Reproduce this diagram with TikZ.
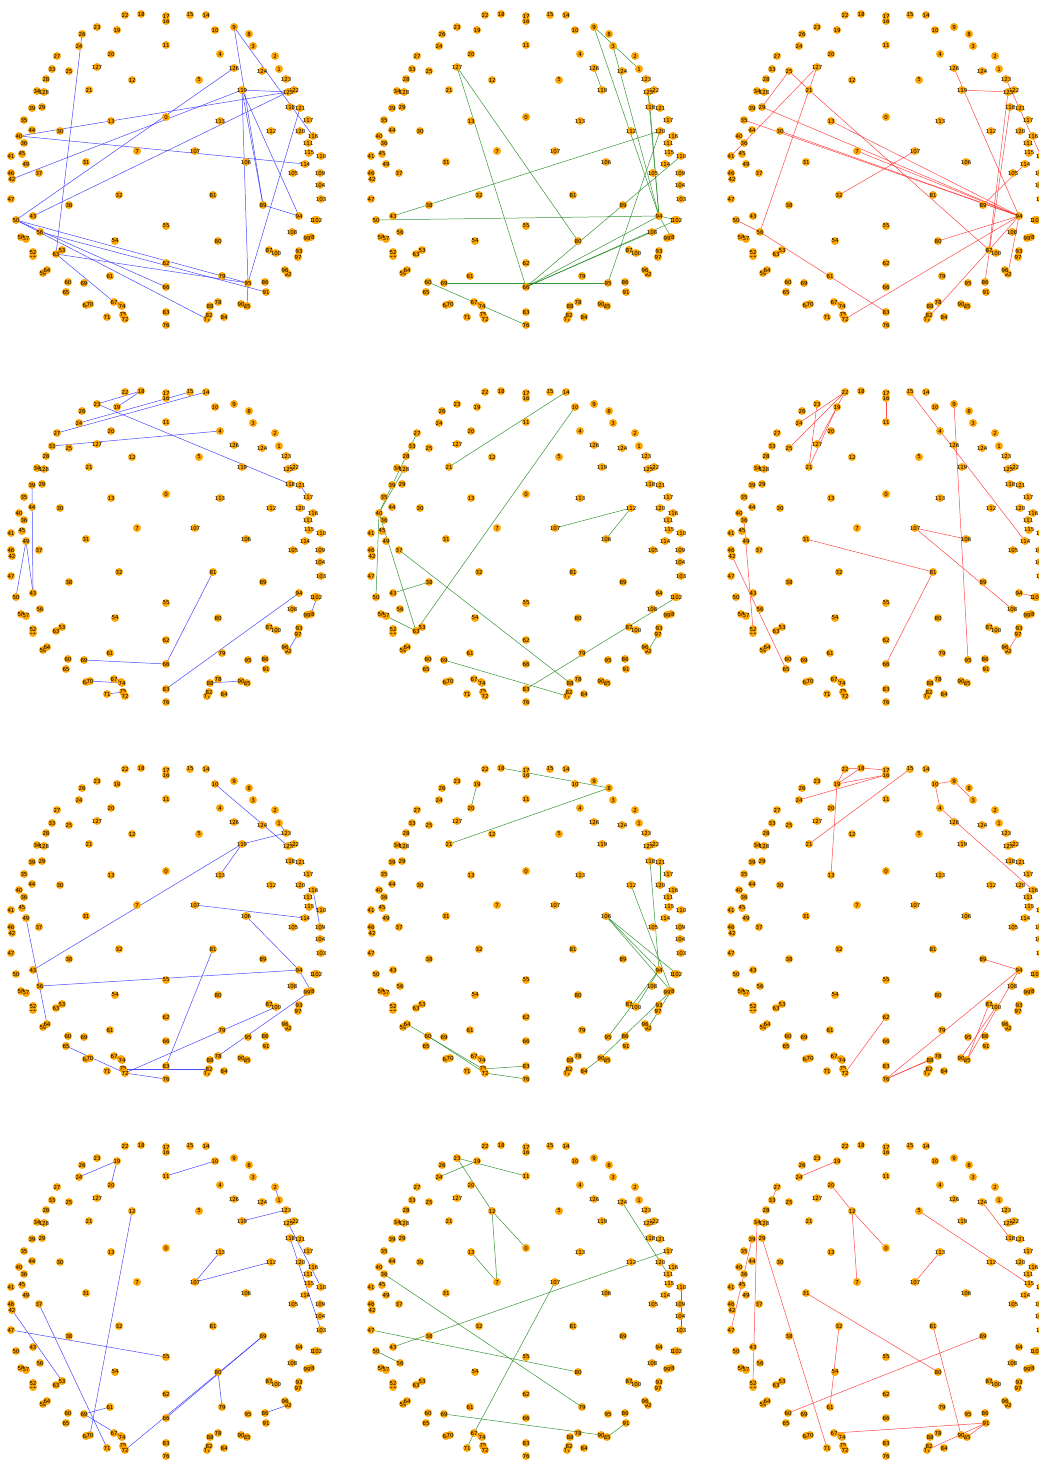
\documentclass[tikz,border=0pt]{standalone}
\usepackage{fontspec}
\setmainfont{DejaVu Sans}
\usetikzlibrary{backgrounds}
\definecolor{nodeorange}{RGB}{255,165,0}
\definecolor{eblue}{RGB}{40,40,255}
\definecolor{egreen}{RGB}{20,130,20}
\definecolor{ered}{RGB}{255,40,40}
\tikzset{
  nd/.style={circle, fill=nodeorange, inner sep=0pt, minimum size=8pt, font=\fontsize{5.5}{5.5}\selectfont, text=black},
  eb/.style={draw=eblue, line width=0.5pt, opacity=0.85},
  eg/.style={draw=egreen, line width=0.5pt, opacity=0.85},
  er/.style={draw=ered, line width=0.5pt, opacity=0.85}
}
\newcommand\placenodes[3]{%
  \foreach \n/\x/\y in {0/166/117,1/279/69,2/275/56,3/253/46,4/220/54,5/199/80,7/137/151,8/249/34,9/234/27,10/215/30,
    11/166/45,12/132/80,13/111/121,14/206/15,15/190/15,16/166/21,17/166/16,18/141/14,19/117/30,20/111/54,
    21/89/90,22/125/15,23/97/27,24/79/46,25/69/71,26/82/34,27/57/56,28/46/79,29/42/107,30/60/131,
    31/86/162,32/119/195,33/52/69,34/37/91,35/24/120,36/24/143,37/39/173,38/69/205,39/32/108,40/19/136,
    41/11/156,42/12/179,43/33/216,44/32/130,45/22/154,46/11/173,47/11/199,49/26/164,50/16/220,
    51/33/256,52/33/252,53/62/250,54/115/241,55/166/226,56/40/232,58/21/237,57/26/239,59/43/273,60/68/282,
    61/110/276,62/166/263,63/56/254,64/47/270,65/66/292,66/166/287,67/114/302,68/86/305,69/84/283,70/90/304,
    71/107/317,73/121/305,74/122/306,75/123/315,72/125/319,76/166/325,77/207/319,78/218/302,79/222/276,80/218/241,
    81/213/195,82/209/315,83/166/312,84/224/317,85/247/306,86/265/282,87/269/250,88/210/306,89/263/205,90/241/304,
    91/266/292,92/288/274,93/299/251,94/299/216,95/248/283,96/285/270,97/298/257,98/311/237,99/307/238,100/276/253,
    101/315/220,102/317/220,103/321/199,104/320/185,105/293/173,106/246/162,107/195/151,108/292/232,109/320/173,110/321/156,
    111/308/143,112/271/131,113/220/121,114/305/164,115/309/153,116/313/136,117/308/120,118/290/107,119/242/90,120/300/131,
    121/300/108,122/294/90,125/288/92,123/286/79,124/262/71,126/234/68,127/97/67,128/44/92}
  {\node[nd] (#1-\n) at (\x+#2,\y+#3) {\makebox[0pt]{\n}};}%
}
\newcommand\edgeset[3]{%
  \begin{pgfonlayer}{background}
  \foreach \a/\b in {#3} {\draw[#2] (#1-\a.center) -- (#1-\b.center);}
  \end{pgfonlayer}%
}
\begin{document}
\begin{tikzpicture}[x=1pt,y=-1pt]
\useasboundingbox (0,0) rectangle (1039,1460);
\placenodes{pa}{0}{0}
\placenodes{pb}{360}{0}
\placenodes{pc}{720}{0}
\placenodes{pd}{0}{377}
\placenodes{pe}{360}{377}
\placenodes{pf}{720}{377}
\placenodes{pg}{0}{754}
\placenodes{ph}{360}{754}
\placenodes{pi}{720}{754}
\placenodes{pj}{0}{1131}
\placenodes{pk}{360}{1131}
\placenodes{pl}{720}{1131}
\edgeset{pa}{eb}{26/63,40/125,40/114,42/119,43/125,50/126,50/95,50/66,50/77,56/91,63/95,63/67,9/116,119/125,119/94,119/89,9/89,119/95,121/95,89/94,95/85}
\edgeset{pb}{eg}{9/1,9/94,3/94,125/94,118/94,43/120,95/120,110/66,127/66,127/80,126/119,69/95,60/76,50/94,94/102,66/94,66/108,66/102,94/98,125/118}
\edgeset{pc}{er}{25/21,21/87,29/94,35/94,30/94,13/94,7/94,107/32,127/41,25/29,127/56,56/83,50/56,119/125,126/94,125/87,118/86,123/110,114/89,94/80,94/72,94/87,94/92,87/77}
\edgeset{pd}{eb}{18/23,18/19,23/118,14/27,15/24,4/33,39/43,49/50,49/43,121/117,81/66,69/66,94/83,102/98,97/92,70/74,71/75,88/90}
\edgeset{pe}{eg}{14/21,10/63,27/40,128/40,40/50,40/63,43/38,57/63,37/88,112/107,112/106,69/77,83/102,97/92}
\edgeset{pf}{er}{22/24,22/25,22/127,23/21,19/21,16/11,15/114,9/95,107/106,107/108,31/81,81/66,36/52,42/65,94/102,97/92}
\edgeset{pg}{eb}{10/125,1/123,123/119,119/43,119/113,107/114,116/109,106/94,49/64,56/94,94/98,98/78,72/100,65/72,75/82,72/76,81/83}
\edgeset{ph}{eg}{18/8,19/20,8/21,121/120,106/94,106/102,106/98,112/98,118/94,94/95,94/100,98/90,98/92,84/90,64/75,60/72,75/83,72/76}
\edgeset{pi}{er}{22/18,18/19,18/17,22/19,19/16,24/16,21/15,13/19,10/9,10/4,9/3,4/116,89/94,94/76,94/85,88/76,78/76,100/90,87/85,62/72}
\edgeset{pj}{eb}{24/19,19/20,11/10,2/1,119/123,125/110,118/103,113/107,107/112,12/70,47/55,42/53,37/71,69/61,69/74,89/72,89/66,80/79,86/92}
\edgeset{pk}{eg}{23/11,19/24,23/12,12/7,12/0,13/7,124/111,117/43,110/103,36/79,47/80,107/67,67/71,50/56,69/90,85/91}
\edgeset{pl}{er}{24/19,20/12,12/0,12/7,34/52,29/71,39/47,27/33,5/115,124/118,113/107,31/80,32/61,89/60,81/90,67/91,91/85,91/77}
\end{tikzpicture}
\end{document}
